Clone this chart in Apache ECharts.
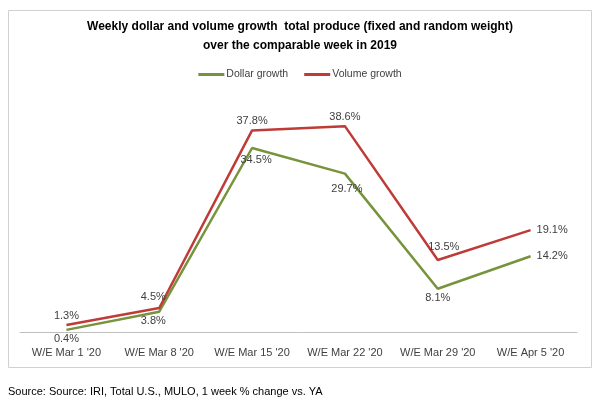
<!DOCTYPE html>
<html>
<head>
<meta charset="utf-8">
<script src="https://cdn.jsdelivr.net/npm/echarts@6/dist/echarts.min.js"></script>
<style>html,body{margin:0;padding:0;background:#fff}#c{width:600px;height:410px}</style>
</head>
<body>
<div id="c"></div>
<script>
var categories = ["W/E Mar 1 '20", "W/E Mar 8 '20", "W/E Mar 15 '20", "W/E Mar 22 '20", "W/E Mar 29 '20", "W/E Apr 5 '20"];
var dollarGrowth = [0.4, 3.8, 34.5, 29.7, 8.1, 14.2];
var volumeGrowth = [1.3, 4.5, 37.8, 38.6, 13.5, 19.1];
var titleLines = ["Weekly dollar and volume growth  total produce (fixed and random weight)", "over the comparable week in 2019"];
var sourceText = "Source: Source: IRI, Total U.S., MULO, 1 week % change vs. YA";

var FONT = "Liberation Sans";
var dollarPos = ['bottom', 'bottom', 'bottom', 'bottom', 'bottom', 'right'];
var volumePos = ['top', 'top', 'top', 'top', 'top', 'right'];
var dollarOff = [[0,0],[-6,0],[4,2],[2,6],[0,0],[2,0]];
var volumeOff = [[0,0],[-6,-2],[0,0],[0,0],[6,-4],[2,0]];

function build(vals, pos, off) {
  return vals.map(function (v, i) {
    return { value: v, label: { position: pos[i], offset: off[i] } };
  });
}

var labelCfg = {
  show: true,
  formatter: function (p) { return p.value.toFixed(1) + '%'; },
  fontFamily: FONT, fontSize: 11, color: '#404040', distance: 4
};

var chart = echarts.init(document.getElementById('c'));
chart.setOption({
  animation: false,
  graphic: [
    { type: 'rect', shape: { x: 8.5, y: 10.5, width: 583, height: 357 }, style: { fill: 'none', stroke: '#d0d0d0', lineWidth: 1 } },
    { type: 'text', left: 'center', top: 17, style: { text: titleLines.join('\n'), font: 'bold 12px "' + FONT + '"', fill: '#000', textAlign: 'center', lineHeight: 19 } },
    { type: 'text', left: 8, top: 386, style: { text: sourceText, font: '11px "' + FONT + '"', fill: '#000' } }
  ],
  legend: {
    top: 64, left: 'center', itemWidth: 26, itemHeight: 3, itemGap: 16, icon: 'rect',
    textStyle: { fontFamily: FONT, fontSize: 10.5, color: '#404040', padding: [0, 0, 0, -3] },
    data: ['Dollar growth', 'Volume growth']
  },
  grid: { left: 20, right: 23, top: 92, bottom: 78 },
  xAxis: {
    type: 'category', data: categories, boundaryGap: true,
    axisLine: { lineStyle: { color: '#bfbfbf', width: 1 } },
    axisTick: { show: false },
    axisLabel: { fontFamily: FONT, fontSize: 11, color: '#404040', margin: 15, interval: 0 }
  },
  yAxis: { type: 'value', min: 0, max: 45, show: false, splitLine: { show: false } },
  series: [
    {
      name: 'Dollar growth', type: 'line', symbol: 'circle', symbolSize: 0, showSymbol: true, color: '#77933c',
      lineStyle: { width: 2.5, color: '#77933c' },
      label: labelCfg,
      data: build(dollarGrowth, dollarPos, dollarOff)
    },
    {
      name: 'Volume growth', type: 'line', symbol: 'circle', symbolSize: 0, showSymbol: true, color: '#be3b37',
      lineStyle: { width: 2.5, color: '#be3b37' },
      label: labelCfg,
      data: build(volumeGrowth, volumePos, volumeOff)
    }
  ]
});
</script>
</body>
</html>
